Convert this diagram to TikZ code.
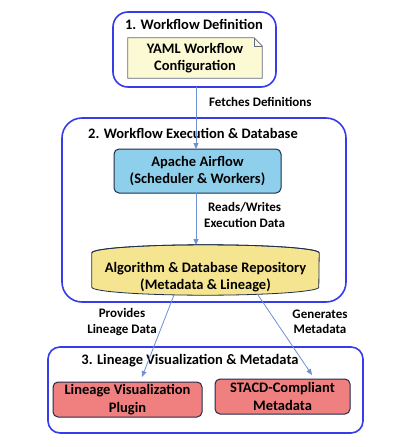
\documentclass[tikz,border=0pt]{standalone}
\usepackage{fontspec}
\setmainfont{Carlito}
\usetikzlibrary{arrows.meta}
\definecolor{grpblue}{RGB}{55,60,235}
\definecolor{arrblue}{RGB}{110,145,210}
\definecolor{navy}{RGB}{30,45,75}
\definecolor{notefill}{RGB}{252,250,212}
\definecolor{airfill}{RGB}{142,208,236}
\definecolor{cylfill}{RGB}{245,229,145}
\definecolor{coral}{RGB}{240,128,128}
\tikzset{
  grp/.style={draw=grpblue,line width=1.6pt,rounded corners=12pt,fill=white},
  grptitle/.style={font=\bfseries\fontsize{14.5}{17}\selectfont,inner sep=0pt},
  boxtext/.style={font=\bfseries\fontsize{14.5}{17.5}\selectfont,align=center,inner sep=0pt},
  procbox/.style={draw=navy,line width=1pt,rounded corners=5pt},
  conn/.style={draw=arrblue,line width=0.8pt,-{Triangle[width=5pt,length=6pt]}},
  lbl/.style={font=\bfseries\fontsize{13}{15.5}\selectfont,align=center,inner sep=0pt}
}
\begin{document}
\begin{tikzpicture}[x=1pt,y=-1pt]
\useasboundingbox (0,0) rectangle (412,447);
% group boxes
\draw[grp,rounded corners=15pt] (113,12) rectangle (276,87);
\node[grptitle] (t1) at (194,24) {1. Workflow Definition};
\draw[grp,rounded corners=20pt] (62,118) rectangle (346,302);
\node[grptitle] (t2) at (193,133) {2. Workflow Execution \& Database};
\draw[grp] (48,347) rectangle (363,433);
\node[grptitle] (t3) at (190,361) {3. Lineage Visualization \& Metadata};
% YAML note
\node[boxtext,minimum width=134pt,minimum height=40pt] (yaml) at (195,58) {YAML Workflow\\Configuration};
\draw[draw=navy!70,fill=notefill,line width=0.8pt]
  (yaml.north west) -- ([xshift=-8pt]yaml.north east) -- ([yshift=-8pt]yaml.north east)
  -- (yaml.south east) -- (yaml.south west) -- cycle;
\draw[draw=navy!70,line width=0.6pt] ([xshift=-8pt]yaml.north east) -- ([xshift=-8pt,yshift=-8pt]yaml.north east) -- ([yshift=-8pt]yaml.north east);
\node[boxtext] at (yaml) {YAML Workflow\\Configuration};
% Airflow
\node[procbox,boxtext,fill=airfill,minimum width=167pt,minimum height=44pt] (air) at (197.5,171) {Apache Airflow\\(Scheduler \& Workers)};
% Cylinder
\node[minimum width=227pt,minimum height=50pt,inner sep=0pt] (repo) at (205.5,270) {};
\draw[draw=navy,fill=cylfill,line width=0.8pt]
  ([yshift=-8pt]repo.north west) -- ([yshift=8pt]repo.south west)
  arc[start angle=180,end angle=360,x radius=113.5pt,y radius=8pt]
  -- ([yshift=-8pt]repo.north east)
  arc[start angle=0,end angle=180,x radius=113.5pt,y radius=8pt] -- cycle;
\draw[draw=navy,line width=0.8pt] ([yshift=-8pt]repo.north west)
  arc[start angle=180,end angle=360,x radius=113.5pt,y radius=-8pt];
\node[boxtext] (repotext) at (205.5,277) {Algorithm \& Database Repository\\(Metadata \& Lineage)};
% bottom boxes
\node[procbox,boxtext,fill=coral,minimum width=149pt,minimum height=35pt] (lin) at (127.5,399.5) {Lineage Visualization\\Plugin};
\node[procbox,boxtext,fill=coral,minimum width=135pt,minimum height=35pt] (stacd) at (282.5,396.5) {STACD-Compliant\\Metadata};
% connectors
\coordinate (c1) at (196,87);
\coordinate (c2) at (196,149);
\draw[conn] (c1) -- (c2);
\node[lbl,anchor=west] (l1) at (209,102) {Fetches Definitions};
\coordinate (c3) at (196,193);
\coordinate (c4) at (196,245);
\draw[conn] (c3) -- (c4);
\node[lbl,anchor=west] (l2) at (204,215) {Reads/Writes\\Execution Data};
\coordinate (c5) at (174,295);
\coordinate (c6) at (142,377);
\draw[conn] (c5) -- (c6);
\node[lbl] (l3) at (122,322) {Provides\\Lineage Data};
\coordinate (c7) at (258,295);
\coordinate (c8) at (312,375);
\draw[conn] (c7) -- (c8);
\node[lbl] (l4) at (320,322) {Generates\\Metadata};
\end{tikzpicture}
\end{document}
